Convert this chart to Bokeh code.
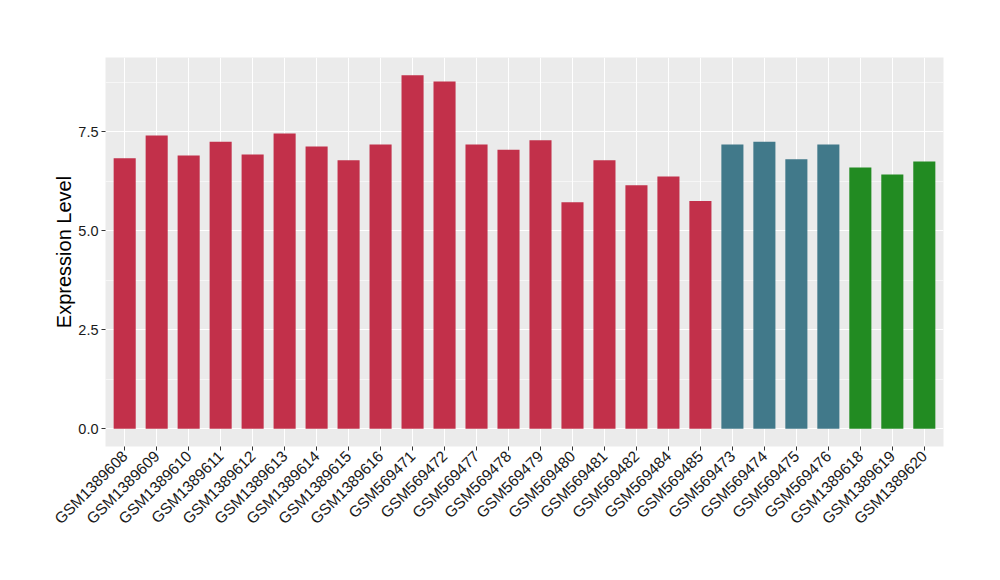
import math
from bokeh.plotting import figure
from bokeh.models import FactorRange, Range1d, FixedTicker, ColumnDataSource, CustomJSTickFormatter
from bokeh.embed import file_html
from bokeh.resources import INLINE

samples = ["GSM1389608", "GSM1389609", "GSM1389610", "GSM1389611", "GSM1389612",
           "GSM1389613", "GSM1389614", "GSM1389615", "GSM1389616", "GSM569471",
           "GSM569472", "GSM569477", "GSM569478", "GSM569479", "GSM569480",
           "GSM569481", "GSM569482", "GSM569484", "GSM569485", "GSM569473",
           "GSM569474", "GSM569475", "GSM569476", "GSM1389618", "GSM1389619",
           "GSM1389620"]
values = [6.83, 7.41, 6.90, 7.25, 6.93, 7.46, 7.13, 6.78, 7.18, 8.93,
          8.77, 7.18, 7.05, 7.29, 5.72, 6.78, 6.15, 6.37, 5.75, 7.18,
          7.25, 6.81, 7.18, 6.60, 6.42, 6.75]
groups = ["A"] * 19 + ["B"] * 4 + ["C"] * 3
group_colors = {"A": "#C2304A", "B": "#41798A", "C": "#228B22"}

y_ticks = [0, 2.5, 5.0, 7.5]
y_minor = [1.25, 3.75, 6.25, 8.75]

ymax = max(values)
pad = ymax * 0.05

src = ColumnDataSource(dict(x=samples, top=values,
                            color=[group_colors[g] for g in groups]))

p = figure(x_range=FactorRange(factors=samples, range_padding=0.1,
                               range_padding_units="absolute"),
           y_range=Range1d(-pad, ymax + pad),
           frame_width=838, frame_height=389,
           min_border_left=105, min_border_top=57, min_border_right=49,
           min_border_bottom=126,
           output_backend="svg", toolbar_location=None)

p.background_fill_color = "#EBEBEB"
p.border_fill_color = "white"
p.outline_line_color = None

p.vbar(x="x", top="top", width=0.69, source=src, fill_color="color",
       line_color=None)

# grids
p.xgrid.grid_line_color = "white"
p.xgrid.grid_line_width = 1.1
p.ygrid.grid_line_color = "white"
p.ygrid.grid_line_width = 1.1
p.ygrid.minor_grid_line_color = "white"
p.ygrid.minor_grid_line_width = 0.55

p.yaxis.ticker = FixedTicker(ticks=y_ticks, minor_ticks=y_minor)
p.yaxis.formatter = CustomJSTickFormatter(code="return tick.toFixed(1);")

for ax in (p.xaxis[0], p.yaxis[0]):
    ax.axis_line_color = None
    ax.major_tick_line_color = "#333333"
    ax.major_tick_line_width = 1
    ax.major_tick_in = 0
    ax.major_tick_out = 4
    ax.minor_tick_line_color = None
    ax.major_label_text_font = "Liberation Sans"
    ax.major_label_text_color = "#1A1A1A"
    ax.major_label_standoff = 3

p.xaxis.major_label_text_font_size = "15.5px"
p.yaxis.major_label_text_font_size = "14.5px"
p.xaxis.major_label_orientation = math.pi / 4
p.yaxis.axis_label = "Expression Level"
p.yaxis.axis_label_text_font = "Liberation Sans"
p.yaxis.axis_label_text_font_size = "20px"
p.yaxis.axis_label_text_font_style = "normal"
p.yaxis.axis_label_text_color = "black"
p.yaxis.axis_label_standoff = 0

open("out.html", "w").write(file_html(p, INLINE))
